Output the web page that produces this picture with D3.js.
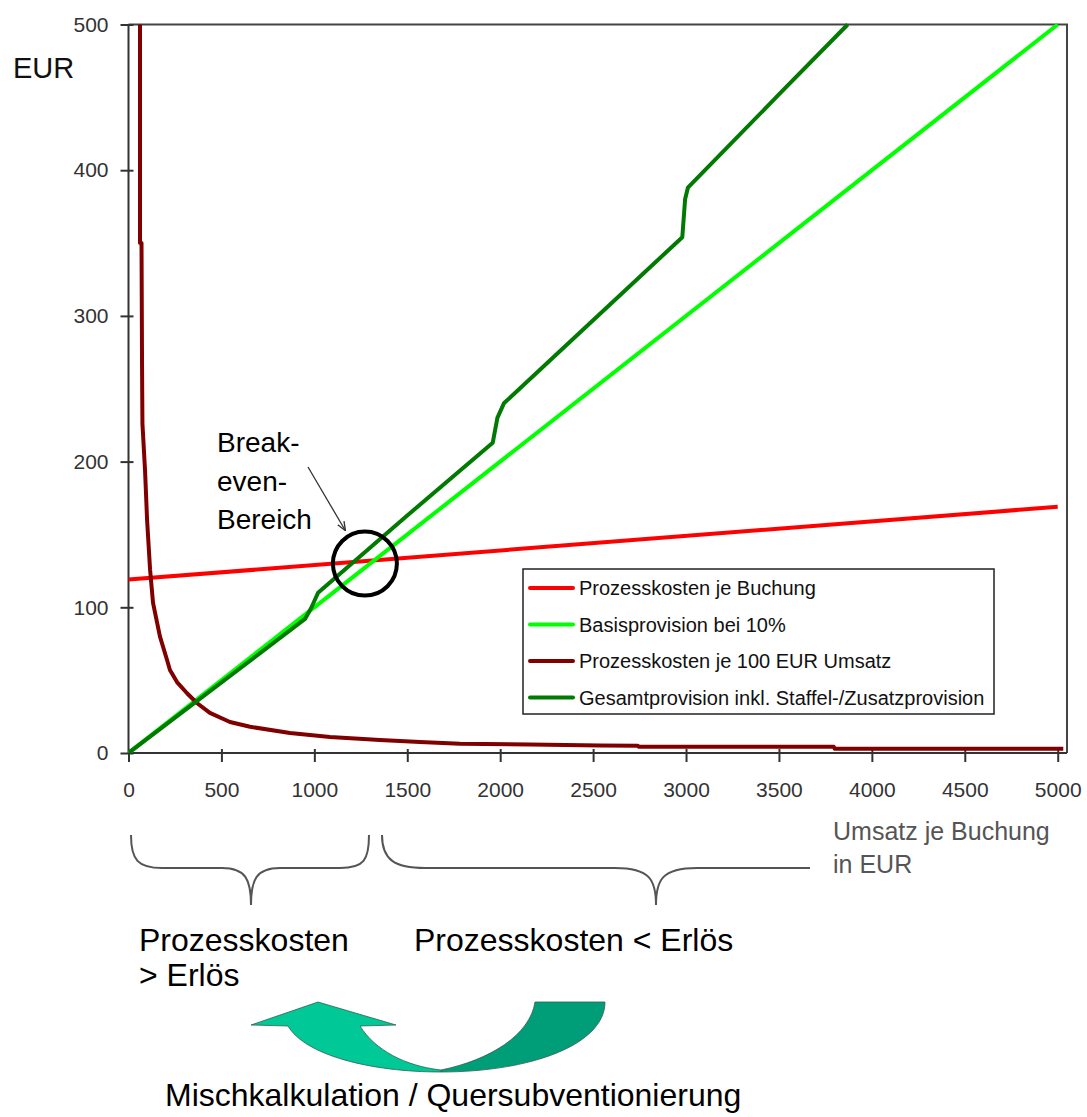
<!DOCTYPE html>
<html>
<head>
<meta charset="utf-8">
<script src="https://cdn.jsdelivr.net/npm/d3@7"></script>
<style>
  body { margin: 0; background: #fff; }
  svg { font-family: Arial, "Liberation Sans", sans-serif; }
  .axis text { font-size: 21px; fill: #333; }
  .axis path, .axis line { stroke: #333; stroke-width: 2; }
</style>
</head>
<body>
<svg id="chart"></svg>
<script>
// Umsatz je Buchung (EUR) -> EUR
const xTicks = [0, 500, 1000, 1500, 2000, 2500, 3000, 3500, 4000, 4500, 5000];
const yTicks = [0, 100, 200, 300, 400, 500];

const seriesNames = [
  'Prozesskosten je Buchung',
  'Basisprovision bei 10%',
  'Prozesskosten je 100 EUR Umsatz',
  'Gesamtprovision inkl. Staffel-/Zusatzprovision',
];
const seriesColors = ['#ff0000', '#00ff00', '#800000', '#007a00'];

const kostenJeBuchung = [[0, 119], [5000, 169]];
const basisProvision = [[0, 0], [5000, 500]];
const kostenJe100 = [
  [62, 500], [62, 350], [70, 350], [73, 263], [75, 226], [89, 194], [100, 160],
  [116, 126], [132, 103], [169, 80], [207, 64], [223, 57], [261, 48.7],
  [315, 41], [368, 34.3], [438, 27.5], [546, 21.3], [654, 18],
  [869, 13.7], [1084, 11], [1353, 8.9], [1568, 7.5], [1783, 6.4], [2160, 5.8],
  [2540, 5.2], [2740, 5.0], [2745, 4.3], [3795, 4.3], [3800, 2.9], [5030, 2.9],
];
const gesamtProvision = [
  [0, 0], [950, 92], [985, 100], [1020, 110], [1500, 163], [1960, 213],
  [1985, 230], [2020, 240], [2500, 297], [2980, 354], [2995, 380], [3010, 388],
  [3500, 452], [3870, 500],
];
const allSeries = [kostenJeBuchung, basisProvision, kostenJe100, gesamtProvision];

const breakEven = [1272, 130];

const width = 1087;
const height = 1117;

const svg = d3.select('#chart')
  .attr('width', width)
  .attr('height', height);

const xScale = d3.scaleLinear()
  .domain([0, 5050])
  .range([128.5, 1067]);

const yScale = d3.scaleLinear()
  .domain([0, 500])
  .range([753, 24.5]);

// plot frame (top + right)
svg.append('path')
  .attr('d', `M${xScale(0)},${yScale(500)}H${xScale(5050)}V${yScale(0)}`)
  .attr('fill', 'none')
  .attr('stroke', '#444')
  .attr('stroke-width', 2);

// axes
const yAxis = d3.axisLeft(yScale)
  .tickValues(yTicks)
  .tickSize(8)
  .tickSizeOuter(0)
  .tickPadding(12)
  .tickFormat(d3.format('d'));

const xAxis = d3.axisBottom(xScale)
  .tickValues(xTicks)
  .tickSize(9)
  .tickSizeOuter(0)
  .tickPadding(20)
  .tickFormat(d3.format('d'));

const yAxisG = svg.append('g')
  .attr('class', 'axis')
  .attr('transform', `translate(${xScale(0)},0)`)
  .call(yAxis);
yAxisG.selectAll('.tick line').attr('x1', 5);
yAxisG.select('.domain').attr('d', `M0,${yScale(0)}V${yScale(500)}`);

const xAxisG = svg.append('g')
  .attr('class', 'axis')
  .attr('transform', `translate(0,${yScale(0)})`)
  .call(xAxis);
xAxisG.selectAll('.tick line').attr('y1', -4);
xAxisG.select('.domain').attr('d', `M${xScale(0)},0H${xScale(5050)}`);

// clip
svg.append('clipPath')
  .attr('id', 'plot-clip')
  .append('rect')
  .attr('x', xScale(0))
  .attr('y', yScale(500) - 2)
  .attr('width', xScale(5050) - xScale(0))
  .attr('height', yScale(0) - yScale(500) + 2);

const line = d3.line()
  .x((d) => xScale(d[0]))
  .y((d) => yScale(d[1]));

svg.append('g')
  .attr('clip-path', 'url(#plot-clip)')
  .selectAll('.series')
  .data(allSeries)
  .join('path')
  .attr('class', 'series')
  .attr('fill', 'none')
  .attr('stroke', (d, i) => seriesColors[i])
  .attr('stroke-width', 4)
  .attr('stroke-linejoin', 'round')
  .attr('d', line);

// legend
const legend = svg.append('g').attr('transform', 'translate(523,569)');
legend.append('rect')
  .attr('width', 471)
  .attr('height', 145)
  .attr('fill', '#fff')
  .attr('stroke', '#222')
  .attr('stroke-width', 1.5);
const rows = legend.selectAll('.row')
  .data(seriesNames)
  .join('g')
  .attr('class', 'row')
  .attr('transform', (d, i) => `translate(0,${19 + i * 36.5})`);
rows.append('line')
  .attr('x1', 7)
  .attr('x2', 50)
  .attr('stroke', (d, i) => seriesColors[i])
  .attr('stroke-width', 4)
  .attr('stroke-linecap', 'round');
rows.append('text')
  .attr('x', 56)
  .attr('dy', '0.35em')
  .attr('font-size', 20)
  .attr('fill', '#111')
  .text((d) => d);

// axis titles
svg.append('text')
  .attr('x', 13)
  .attr('y', 78)
  .attr('font-size', 29)
  .attr('fill', '#111')
  .text('EUR');

const xTitle = svg.append('text')
  .attr('x', 833)
  .attr('font-size', 25)
  .attr('fill', '#555');
xTitle.append('tspan').attr('x', 833).attr('y', 840).text('Umsatz je Buchung');
xTitle.append('tspan').attr('x', 833).attr('y', 873).text('in EUR');

// break-even annotation
svg.append('circle')
  .attr('cx', xScale(breakEven[0]))
  .attr('cy', yScale(breakEven[1]))
  .attr('r', 32)
  .attr('fill', 'none')
  .attr('stroke', '#000')
  .attr('stroke-width', 4);

svg.append('defs').append('marker')
  .attr('id', 'arrowhead')
  .attr('viewBox', '0 0 10 10')
  .attr('refX', 9)
  .attr('refY', 5)
  .attr('markerWidth', 7)
  .attr('markerHeight', 7)
  .attr('orient', 'auto')
  .append('path')
  .attr('d', 'M0,1L10,5L0,9')
  .attr('fill', 'none')
  .attr('stroke', '#333')
  .attr('stroke-width', 1.5);

svg.append('line')
  .attr('x1', 308)
  .attr('y1', 467)
  .attr('x2', 345)
  .attr('y2', 530)
  .attr('stroke', '#333')
  .attr('stroke-width', 1.3)
  .attr('marker-end', 'url(#arrowhead)');

const beText = svg.append('text')
  .attr('font-size', 28)
  .attr('fill', '#000');
['Break-', 'even-', 'Bereich'].forEach((t, i) => {
  beText.append('tspan').attr('x', 217).attr('y', 452 + i * 38.5).text(t);
});

// braces
const braceG = svg.append('g')
  .attr('fill', 'none')
  .attr('stroke', '#555')
  .attr('stroke-width', 2);
braceG.append('path')
  .attr('d', 'M131,835 C131,860 138,868 162,868 L222,868 C246,868 251,880 251,905 C251,880 256,868 280,868 L340,868 C364,868 369,860 369,835');
braceG.append('path')
  .attr('d', 'M382,835 C382,860 395,868 425,868 L615,868 C650,868 656,880 656,905 C656,880 662,868 697,868 L810,868');

// bottom labels
const lbl = svg.append('g').attr('font-size', 32).attr('fill', '#000');
lbl.append('text').attr('x', 139).attr('y', 951).text('Prozesskosten');
lbl.append('text').attr('x', 139).attr('y', 986).text('> Erlös');
lbl.append('text').attr('x', 414).attr('y', 951).text('Prozesskosten < Erlös');
lbl.append('text').attr('x', 165).attr('y', 1106).text('Mischkalkulation / Quersubventionierung');

// curved arrow
const arrowG = svg.append('g')
  .attr('stroke', '#2f5f50')
  .attr('stroke-width', 0.8);
arrowG.append('path')
  .attr('d', 'M441,1070 C490,1060 530,1035 535,1002 L605,1002 C605,1045 530,1072 441,1072 Z')
  .attr('fill', '#009e78');
arrowG.append('path')
  .attr('d', 'M251,1025 L318,1002 L396,1025 L360,1026 C375,1050 405,1066 441,1070 L441,1072 C370,1072 305,1055 288,1026 Z')
  .attr('fill', '#00c896');
</script>
</body>
</html>
